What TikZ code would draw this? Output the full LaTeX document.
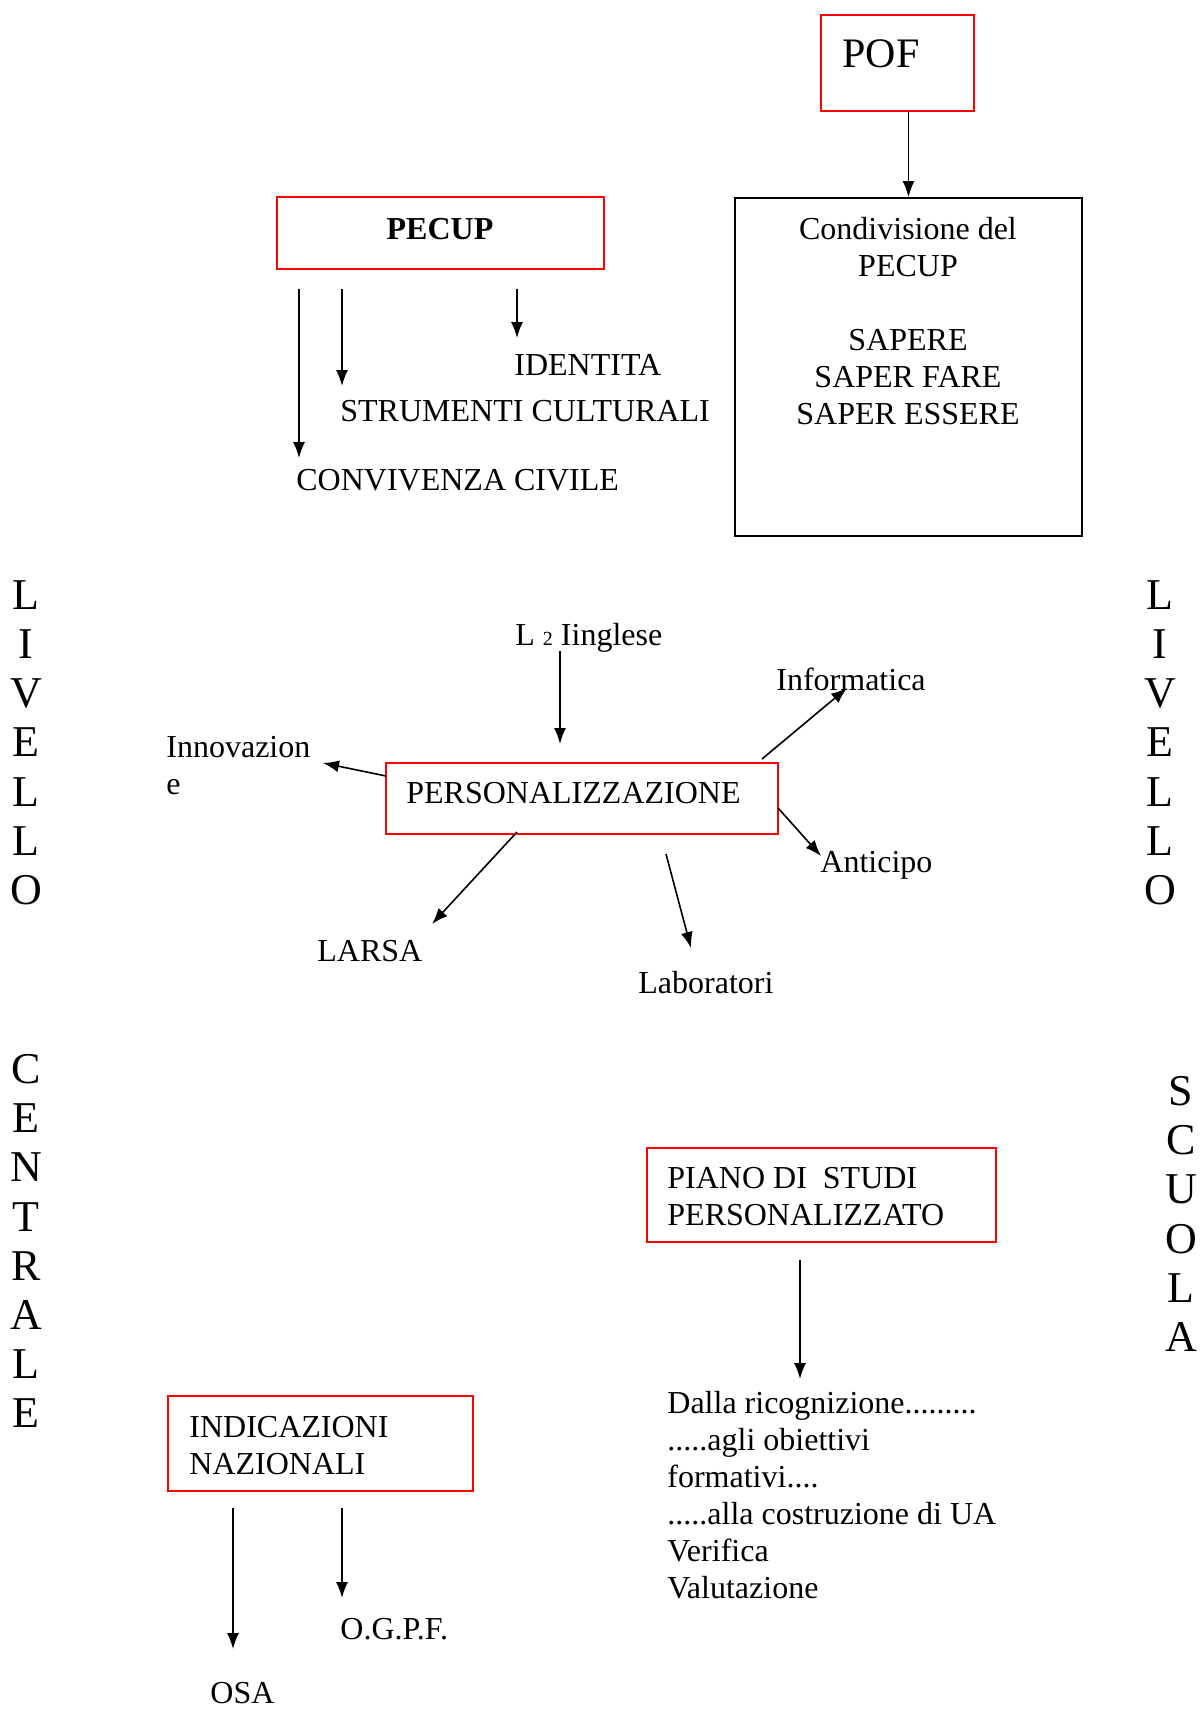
\documentclass[tikz,border=0pt]{standalone}
\usepackage{fontspec}
\setmainfont{Liberation Serif}
\usetikzlibrary{fit,arrows.meta}

\tikzset{
	redbox/.style={draw=red, line width=1pt, inner sep=0pt},
	blackbox/.style={draw, line width=1pt, inner sep=0pt},
	lbl/.style={inner sep=0pt, anchor=base west, font=\fontsize{16}{18.5}\selectfont},
	multilbl/.style={inner sep=0pt, anchor=north west, align=left, font=\fontsize{16}{18.5}\selectfont},
	side/.style={inner sep=0pt, anchor=north, align=center, font=\fontsize{22}{24.6}\selectfont},
	arr/.style={-{Latex[length=8pt,width=6pt]}, line width=0.8pt}
}

\begin{document}
\begin{tikzpicture}[x=0.5pt, y=-0.5pt]
		\useasboundingbox (0,0) rectangle (1200,1709);

		% boxes
		\node[redbox, fit={(821,15) (974,111)}] (pof) {};
		\node[redbox, fit={(277,197) (604,269)}] (pecup) {};
		\node[blackbox, fit={(735,198) (1082,536)}] (cond) {};
		\node[redbox, fit={(386,763) (778,834)}] (perso) {};
		\node[redbox, fit={(647,1148) (996,1242)}] (piano) {};
		\node[redbox, fit={(168,1396) (473,1491)}] (indic) {};

		% texts
		\node[inner sep=0pt, anchor=base west, font=\fontsize{21}{24}\selectfont] (pofT) at (842,67) {POF};
		\node[lbl, anchor=base, font=\fontsize{16}{18.5}\selectfont\bfseries] (pecupT) at (440,239) {PECUP};
		\node[inner sep=0pt, anchor=north, align=center, font=\fontsize{16}{18.5}\selectfont] (condT) at (908,217)
			{Condivisione del\\PECUP\\[18.5pt]SAPERE\\SAPER FARE\\SAPER ESSERE};
		\node[lbl] (ident) at (514,375) {IDENTITA};
		\node[lbl] (strum) at (340,421) {STRUMENTI CULTURALI};
		\node[lbl] (conv) at (296,490) {CONVIVENZA CIVILE};

		\node[lbl] (persoT) at (406,803) {PERSONALIZZAZIONE};
		\node[lbl] (lingua) at (515,645) {L {\fontsize{10}{12}\selectfont 2} Iinglese};
		\node[lbl] (info) at (776,690) {Informatica};
		\node[multilbl] (innov) at (166,736) {Innovazion\\e};
		\node[lbl] (antic) at (820,872) {Anticipo};
		\node[lbl] (larsa) at (317,961) {LARSA};
		\node[lbl] (labor) at (638,993) {Laboratori};

		\node[multilbl] (pianoT) at (667,1167) {PIANO DI \ STUDI\\PERSONALIZZATO};
		\node[multilbl] (dalla) at (667,1391) {Dalla ricognizione.........\\.....agli obiettivi\\formativi....\\.....alla costruzione di UA\\Verifica\\Valutazione};
		\node[multilbl] (indicT) at (189,1416) {INDICAZIONI\\NAZIONALI};
		\node[lbl] (ogpf) at (340,1639) {O.G.P.F.};
		\node[lbl] (osa) at (210,1703) {OSA};

		% side letters
		\node[side] (livL) at (26,580) {L\\I\\V\\E\\L\\L\\O};
		\node[side] (centr) at (26,1054) {C\\E\\N\\T\\R\\A\\L\\E};
		\node[side] (livR) at (1160,580) {L\\I\\V\\E\\L\\L\\O};
		\node[side] (scuola) at (1181,1076) {S\\C\\U\\O\\L\\A};

		% arrow ends
		\coordinate (pc1) at (299,289);
		\coordinate (pc1e) at (299,458);
		\coordinate (pc2) at (342,289);
		\coordinate (pc2e) at (342,386);
		\coordinate (pc3) at (517,289);
		\coordinate (pc3e) at (517,338);
		\coordinate (l2s) at (560,651);
		\coordinate (l2e) at (560,744);
		\coordinate (infs) at (762,759);
		\coordinate (infe) at (847,688);
		\coordinate (inns) at (386,776);
		\coordinate (inne) at (323,763);
		\coordinate (ants) at (778,808);
		\coordinate (ante) at (821,856);
		\coordinate (lars) at (517,832);
		\coordinate (lare) at (432,924);
		\coordinate (labs) at (666,854);
		\coordinate (labe) at (691,948);
		\coordinate (pis) at (800,1260);
		\coordinate (pie) at (800,1379);
		\coordinate (in1) at (233,1508);
		\coordinate (in1e) at (233,1649);
		\coordinate (in2) at (342,1508);
		\coordinate (in2e) at (342,1598);

		% arrows
		\draw[arr] (pof.south -| cond.north) -- (cond.north);
		\draw[arr] (pc1) -- (pc1e);
		\draw[arr] (pc2) -- (pc2e);
		\draw[arr] (pc3) -- (pc3e);
		\draw[arr] (l2s) -- (l2e);
		\draw[arr] (infs) -- (infe);
		\draw[arr] (inns) -- (inne);
		\draw[arr] (ants) -- (ante);
		\draw[arr] (lars) -- (lare);
		\draw[arr] (labs) -- (labe);
		\draw[arr] (pis) -- (pie);
		\draw[arr] (in1) -- (in1e);
		\draw[arr] (in2) -- (in2e);
	\end{tikzpicture}
\end{document}
